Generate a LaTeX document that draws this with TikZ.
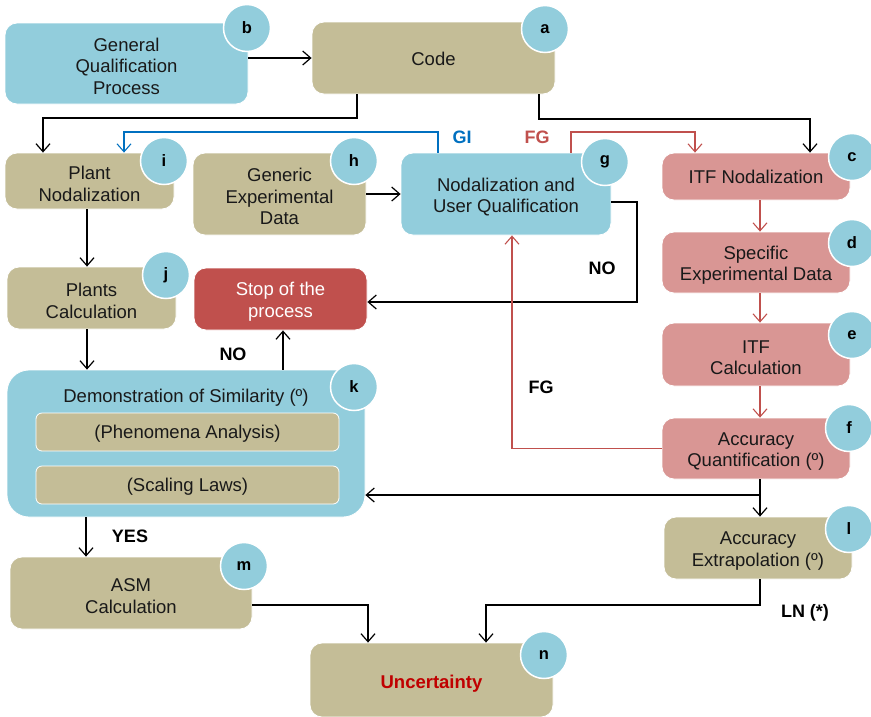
\documentclass[tikz,border=0pt]{standalone}
\usepackage{fontspec}
\setmainfont{Liberation Sans}
\usetikzlibrary{arrows.meta}
\definecolor{cTan}{RGB}{196,189,151}
\definecolor{cBlue}{RGB}{146,205,220}
\definecolor{cPink}{RGB}{217,150,148}
\definecolor{cStop}{RGB}{192,80,77}
\definecolor{cGI}{RGB}{0,112,192}
\definecolor{cUnc}{RGB}{192,0,0}
% taller first line, to set the text block a little lower in its box
\newcommand\boxstrut[1][19pt]{\rule{0pt}{#1}}
\tikzset{
  box/.style={rounded corners=12pt, draw=white, line width=0.8pt, align=center,
    inner sep=0pt, text=black!90, font=\fontsize{18.5}{21.5}\selectfont},
  tanbox/.style={box, fill=cTan},
  bluebox/.style={box, fill=cBlue},
  pinkbox/.style={box, fill=cPink},
  stopbox/.style={box, fill=cStop, text=white},
  badge/.style={circle, fill=cBlue, draw=white, line width=1.5pt, minimum size=47pt,
    inner sep=0pt, text=black, font=\fontsize{16.5}{16.5}\selectfont\bfseries},
  tip/.style={-{Straight Barb[length=8pt,width=14pt]}},
  arr/.style={draw=black, line width=1.2pt, tip},
  redarr/.style={draw=cStop, line width=1.1pt, tip},
  bluearr/.style={draw=cGI, line width=1.1pt, tip},
  lbl/.style={font=\fontsize{18}{18}\selectfont\bfseries, inner sep=0pt}
}
\begin{document}
\begin{tikzpicture}[x=1pt, y=-1pt]
\useasboundingbox (0,0) rectangle (871,716);

% process boxes
\node[bluebox, minimum width=243pt, minimum height=81pt] (b) at (126.5,63.5) {\boxstrut General\\Qualification\\Process};
\node[tanbox, minimum width=243pt, minimum height=72pt] (a) at (433.5,58) {\boxstrut[15pt]Code};
\node[tanbox, minimum width=169pt, minimum height=56pt] (i) at (89.5,181) {\boxstrut Plant\\Nodalization};
\node[tanbox, minimum width=173pt, minimum height=82pt] (h) at (279.5,194) {\boxstrut Generic\\Experimental\\Data};
\node[bluebox, minimum width=210pt, minimum height=82pt] (g) at (506,194) {\boxstrut Nodalization and\\User Qualification};
\node[pinkbox, minimum width=188pt, minimum height=47pt] (c) at (756,176.5) {\boxstrut[15pt]ITF Nodalization};
\node[pinkbox, minimum width=188pt, minimum height=61pt] (d) at (756,262.5) {\boxstrut Specific\\Experimental Data};
\node[pinkbox, minimum width=188pt, minimum height=63pt] (e) at (756,354.5) {\boxstrut ITF\\Calculation};
\node[pinkbox, minimum width=188pt, minimum height=61pt] (f) at (756,448.5) {\boxstrut Accuracy\\Quantification (º)};
\node[tanbox, minimum width=188pt, minimum height=62pt] (l) at (758,548) {\boxstrut Accuracy\\Extrapolation (º)};
\node[tanbox, minimum width=169pt, minimum height=62pt] (j) at (91.5,298) {\boxstrut Plants\\Calculation};
\node[stopbox, minimum width=173pt, minimum height=62pt] (stop) at (280.5,299) {\boxstrut Stop of the\\process};
\node[bluebox, rounded corners=22pt, minimum width=358pt, minimum height=147pt] (k) at (186,443.5) {};
\node[box, draw=none, fill=none] (ktitle) at (186,394.5) {\boxstrut Demonstration of Similarity (º)};
\node[tanbox, rounded corners=6pt, minimum width=303pt, minimum height=38pt] (pa) at (187.5,432) {\boxstrut[16pt](Phenomena Analysis)};
\node[tanbox, rounded corners=6pt, minimum width=303pt, minimum height=38pt] (sl) at (187.5,485) {\boxstrut[16pt](Scaling Laws)};
\node[tanbox, minimum width=242pt, minimum height=72pt] (m) at (131,593) {\boxstrut ASM\\Calculation};
\node[tanbox, minimum width=243pt, minimum height=74pt, text=cUnc, font=\fontsize{18.5}{21.5}\selectfont\bfseries] (n) at (431.5,680) {\boxstrut[20pt]Uncertainty};

% letter badges
\node[badge] (bb) at (247,28) {b};
\node[badge] (ba) at (545,29) {a};
\node[badge] (bi) at (164,161) {i};
\node[badge] (bh) at (354,161) {h};
\node[badge] (bg) at (605,162) {g};
\node[badge] (bc) at (852,157) {c};
\node[badge] (bd) at (852,243) {d};
\node[badge] (be) at (852,335) {e};
\node[badge] (bf) at (849,428) {f};
\node[badge] (bl) at (849,529) {l};
\node[badge] (bj) at (166,275) {j};
\node[badge] (bk) at (354,387) {k};
\node[badge] (bm) at (244,566) {m};
\node[badge] (bn) at (544,655) {n};

% connectors
\draw[arr] (b.east |- a.west) -- (a.west);
\draw[arr] (357,0 |- a.south) -- (357,118) -| (43,0 |- i.north);
\draw[arr] (539,0 |- a.south) -- (539,119) -| (810,0 |- c.north);
\draw[bluearr] (438,0 |- g.north) -- (438,132) -| (124,0 |- i.north);
\draw[redarr] (571,0 |- g.north) -- (571,132) -| (695,0 |- c.north);
\draw[arr] (h) -- (g);
\draw[arr] (g.east |- 0,202) -| (637,302) -- (stop.east |- 0,302);
\draw[redarr] (760,0 |- c.south) -- (760,0 |- d.north);
\draw[redarr] (760,0 |- d.south) -- (760,0 |- e.north);
\draw[redarr] (760,0 |- e.south) -- (760,0 |- f.north);
\draw[redarr] (f.west) -| (512,0 |- g.south);
\draw[arr] (760,0 |- f.south) -- (760,0 |- l.north);
\draw[arr] (760,495) -- (k.east |- 0,495);
\draw[arr] (87,0 |- i.south) -- (87,0 |- j.north);
\draw[arr] (87,0 |- j.south) -- (87,0 |- k.north);
\draw[arr] (283,0 |- k.north) -- (283,0 |- stop.south);
\draw[arr] (86,0 |- k.south) -- (86,0 |- m.north);
\draw[arr] (m.east |- 0,605) -| (368,0 |- n.north);
\draw[arr] (760,0 |- l.south) -- (760,605) -| (486,0 |- n.north);

% connector labels
\node[lbl, text=cGI] (tGI) at (462,137) {GI};
\node[lbl, text=cStop] (tFG1) at (537,137) {FG};
\node[lbl] (tNO1) at (602,268) {NO};
\node[lbl] (tFG2) at (541,387) {FG};
\node[lbl] (tNO2) at (233,354) {NO};
\node[lbl] (tYES) at (130,536) {YES};
\node[lbl] (tLN) at (805,613) {LN (*)};
\end{tikzpicture}
\end{document}
